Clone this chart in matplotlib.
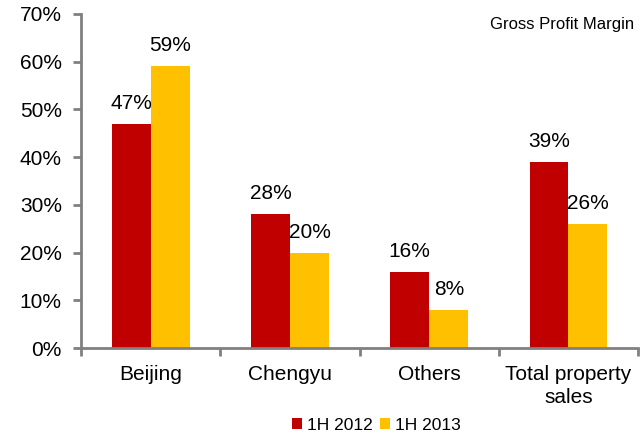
import numpy as np
import matplotlib.pyplot as plt

plt.rcParams['font.family'] = ['Liberation Sans', 'DejaVu Sans']

# Data
categories = ["Beijing", "Chengyu", "Others", "Total property\nsales"]
series_names = ["1H 2012", "1H 2013"]
margin_2012 = [47, 28, 16, 39]
margin_2013 = [59, 20, 8, 26]
colors = ["#C00000", "#FFC000"]

fig = plt.figure(figsize=(6.4, 4.33), dpi=100)
ax = fig.add_axes([0.127, 0.196, 0.87, 0.772])

x = np.arange(len(categories))
w = 0.28
bars1 = ax.bar(x - w / 2, margin_2012, w, color=colors[0], label=series_names[0])
bars2 = ax.bar(x + w / 2, margin_2013, w, color=colors[1], label=series_names[1])

for bars, vals in [(bars1, margin_2012), (bars2, margin_2013)]:
    for b, v in zip(bars, vals):
        ax.text(b.get_x() + b.get_width() / 2, v + 2.3, f"{v}%", ha="center",
                va="bottom", fontsize=15)

ax.set_xlim(-0.5, len(categories) - 0.5)
ax.set_ylim(0, 70)
ax.set_yticks(np.arange(0, 71, 10))
ax.set_yticklabels([f"{t}%" for t in range(0, 71, 10)], fontsize=15)

# category labels centered, ticks at boundaries
ax.set_xticks(np.arange(-0.5, len(categories), 1))
ax.set_xticklabels([])
ax.set_xticks(x, minor=True)
ax.set_xticklabels(categories, minor=True, fontsize=15, linespacing=1.3)
ax.tick_params(axis="x", which="minor", length=0, pad=12)
ax.tick_params(axis="x", which="major", length=6, color="#808080", width=2)
ax.tick_params(axis="y", length=6, color="#808080", width=2, pad=8)

for s in ["top", "right"]:
    ax.spines[s].set_visible(False)
for s in ["left", "bottom"]:
    ax.spines[s].set_color("#808080")
    ax.spines[s].set_linewidth(2)

ax.text(0.993, 0.99, "Gross Profit Margin", transform=ax.transAxes, ha="right",
        va="top", fontsize=12)

ax.legend(loc="lower center", bbox_to_anchor=(0.53, -0.3), ncol=2, frameon=False,
          fontsize=12.5, handlelength=0.6, handleheight=0.6, handletextpad=0.3,
          columnspacing=0.4)

fig.savefig("out.png", dpi=100)
